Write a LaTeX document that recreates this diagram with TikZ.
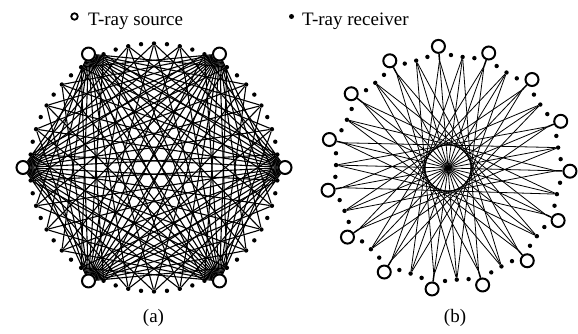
\documentclass[tikz,border=0pt]{standalone}
\usepackage{fontspec}
\setmainfont{Liberation Serif}
\usetikzlibrary{backgrounds}
\begin{document}
\begin{tikzpicture}[x=1pt,y=1pt,
  srcnode/.style={circle,draw,line width=2pt,minimum size=13pt,inner sep=0pt,fill=white},
  legsrc/.style={circle,draw,line width=1.8pt,minimum size=6.5pt,inner sep=0pt},
  rxnode/.style={circle,fill,minimum size=4.4pt,inner sep=0pt},
  legrx/.style={circle,fill,minimum size=5pt,inner sep=0pt},
  lbl/.style={font=\fontsize{19}{22}\selectfont,inner sep=0pt},
  linka/.style={line width=1.1pt},
  linkb/.style={line width=0.8pt},
  stem/.style={line width=1.5pt}]
\useasboundingbox (0,0) rectangle (578,333);

% legend
\node[legsrc] (lsrc) at (74.5,316.5) {};
\node[lbl,anchor=base west] (lsrct) at (88,308) {T-ray source};
\node[legrx] (lrx) at (291.5,316.5) {};
\node[lbl,anchor=base west] (lrxt) at (302,308) {T-ray receiver};

% labels
\node[lbl,anchor=base] (la) at (153.5,11) {(a)};
\node[lbl,anchor=base] (lb) at (455,11) {(b)};

% ---------- panel (a) ----------
\foreach \k in {0,...,5}{
  \pgfmathsetmacro\ang{60*\k}
  \node[srcnode] (as\k) at ([shift={(154,165.5)}]\ang:131) {};
  \foreach \m in {1,...,4}{
    \pgfmathsetmacro\angd{60*\k+12*\m}
    \node[rxnode] (ad\k-\m) at ([shift={(154,165.5)}]\angd:124) {};
  }
}
\foreach \j in {0,...,29}{
  \pgfmathsetmacro\ang{6+12*\j}
  \node[rxnode] (ar\j) at ([shift={(154,165.5)}]\ang:124) {};
}
\begin{pgfonlayer}{background}
\foreach \k in {0,...,5}{
  \foreach \j in {0,...,29}{
    \pgfmathtruncatemacro\ok{abs(mod(6+12*\j-60*\k+720,360)-180)<120}
    \ifnum\ok=1 \draw[linka] (as\k) -- (ar\j);\fi
  }
}
\end{pgfonlayer}

% ---------- panel (b) ----------
\foreach \k in {0,...,14}{
  \pgfmathsetmacro\ang{-1.5+24*\k}
  \pgfmathsetmacro\angr{10.5+24*\k}
  \pgfmathsetmacro\angu{4.5+24*\k}
  \pgfmathsetmacro\angv{16.5+24*\k}
  \node[srcnode] (bs\k) at ([shift={(448,165)}]\ang:122) {};
  \coordinate (bj\k) at ([shift={(448,165)}]\ang:108);
  \node[rxnode] (br\k) at ([shift={(448,165)}]\angr:112) {};
  \node[rxnode] (bu\k) at ([shift={(448,165)}]\angu:113) {};
  \node[rxnode] (bv\k) at ([shift={(448,165)}]\angv:113) {};
}
\begin{pgfonlayer}{background}
\foreach \k in {0,...,14}{
  \draw[stem] (bs\k) -- (bj\k);
  \foreach \m in {6,7,8}{
    \pgfmathtruncatemacro\j{mod(\k+\m,15)}
    \draw[linkb] (bj\k) -- (br\j);
  }
}
\end{pgfonlayer}
\end{tikzpicture}
\end{document}
